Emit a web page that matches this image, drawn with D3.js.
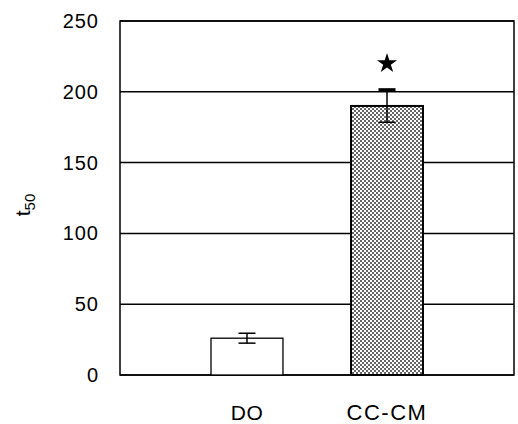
<!DOCTYPE html>
<html>
<head>
<meta charset="utf-8">
<script src="https://d3js.org/d3.v7.min.js"></script>
<style>
    body { margin: 0; background: #fff; }
    svg text { font-family: Arial, "Liberation Sans", sans-serif; fill: #000; }
</style>
</head>
<body>
<div id="chart"></div>
<script>
// chart values
const categories = ["DO", "CC-CM"];
const means = [26, 190];
const errors = [3.5, 11.5];
const yTicks = [0, 50, 100, 150, 200, 250];
const starCategory = "CC-CM";
const starValue = 220;

const width = 518, height = 424;
const margin = { top: 21, right: 4, bottom: 49, left: 120 };

const svg = d3.select("#chart").append("svg")
    .attr("width", width)
    .attr("height", height);

// dotted fill for the second bar
const pattern = svg.append("defs").append("pattern")
    .attr("id", "dots")
    .attr("width", 4)
    .attr("height", 4)
    .attr("patternUnits", "userSpaceOnUse");
pattern.append("rect").attr("width", 4).attr("height", 4).attr("fill", "#fff");
pattern.append("circle").attr("cx", 1).attr("cy", 1).attr("r", 1.0).attr("fill", "#333");
pattern.append("circle").attr("cx", 3).attr("cy", 3).attr("r", 1.0).attr("fill", "#333");

const x = d3.scaleBand()
    .domain(categories)
    .range([margin.left, width - margin.right])
    .paddingInner(0.486)
    .paddingOuter(0.65);

const y = d3.scaleLinear()
    .domain([0, 250])
    .range([height - margin.bottom, margin.top]);

// gridlines
svg.append("g")
    .selectAll("line")
    .data(yTicks)
    .join("line")
    .attr("x1", margin.left)
    .attr("x2", width - margin.right)
    .attr("y1", d => y(d))
    .attr("y2", d => y(d))
    .attr("stroke", "#000")
    .attr("stroke-width", 1.5);

// plot frame
svg.append("rect")
    .attr("x", margin.left)
    .attr("y", margin.top)
    .attr("width", width - margin.left - margin.right)
    .attr("height", height - margin.top - margin.bottom)
    .attr("fill", "none")
    .attr("stroke", "#000")
    .attr("stroke-width", 1.5);

// bars
svg.append("g")
    .selectAll("rect")
    .data(categories)
    .join("rect")
    .attr("x", d => x(d))
    .attr("y", (d, i) => y(means[i]))
    .attr("width", x.bandwidth())
    .attr("height", (d, i) => y(0) - y(means[i]))
    .attr("fill", (d, i) => i === 0 ? "#fff" : "url(#dots)")
    .attr("stroke", "#000")
    .attr("stroke-width", (d, i) => i === 0 ? 1.3 : 2);

// error bars
const err = svg.append("g")
    .attr("stroke", "#000")
    .attr("stroke-width", 1.5);
categories.forEach((c, i) => {
    const cx = x(c) + x.bandwidth() / 2;
    const top = y(means[i] + errors[i]);
    const bottom = y(means[i] - errors[i]);
    err.append("line").attr("x1", cx).attr("x2", cx).attr("y1", top).attr("y2", bottom);
    err.append("line").attr("x1", cx - 8.5).attr("x2", cx + 8.5).attr("y1", top).attr("y2", top)
        .attr("stroke-width", i === 1 ? 3 : 1.5);
    err.append("line").attr("x1", cx - 8.5).attr("x2", cx + 8.5).attr("y1", bottom).attr("y2", bottom);
});

// significance star
svg.append("path")
    .attr("d", d3.symbol().type(d3.symbolStar).size(125))
    .attr("transform", `translate(${x(starCategory) + x.bandwidth() / 2},${y(starValue)})`)
    .attr("fill", "#000");

// y axis labels
const yAxis = svg.append("g")
    .attr("transform", `translate(${margin.left},0)`)
    .call(d3.axisLeft(y).tickValues(yTicks).tickSize(0).tickPadding(21));
yAxis.select(".domain").remove();
yAxis.selectAll("text")
    .attr("font-size", 20)
    .attr("letter-spacing", "1px")
    .attr("font-family", "Arial, 'Liberation Sans', sans-serif");

// x axis labels
svg.append("g")
    .selectAll("text")
    .data(categories)
    .join("text")
    .attr("x", d => x(d) + x.bandwidth() / 2)
    .attr("y", 420)
    .attr("text-anchor", "middle")
    .attr("font-size", d => d === "CC-CM" ? 22 : 21)
    .attr("letter-spacing", d => d === "CC-CM" ? "1.5px" : "0.5px")
    .text(d => d);

// y title: t with subscript 50
const title = svg.append("text")
    .attr("transform", "translate(30,205) rotate(-90)")
    .attr("text-anchor", "middle")
    .attr("font-size", 21);
title.append("tspan").text("t");
title.append("tspan").attr("font-size", 15).attr("dy", 5).text("50");
</script>
</body>
</html>
